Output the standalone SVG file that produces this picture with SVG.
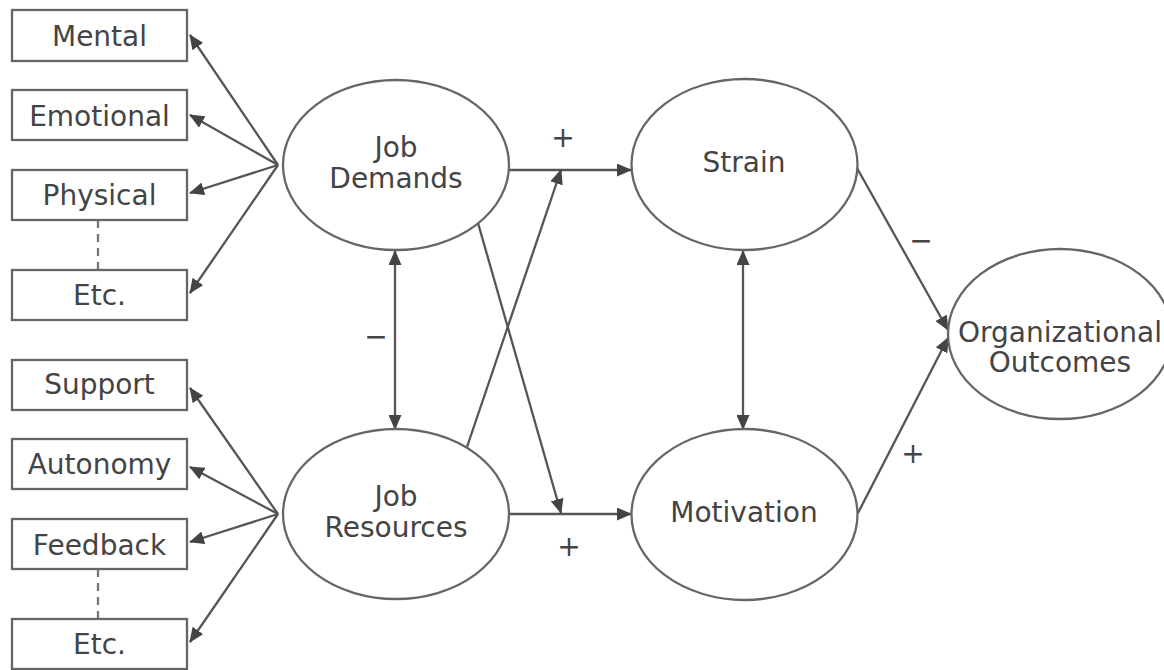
<svg xmlns="http://www.w3.org/2000/svg" width="1164" height="670" viewBox="0 0 1164 670">
<style>
.box{fill:#fff;stroke:#666;stroke-width:2.3}
.ell{fill:#fff;stroke:#666;stroke-width:2.3}
.t{font-family:"DejaVu Sans",Verdana,sans-serif;font-size:28px;fill:#444;text-anchor:middle}
.s{font-family:"DejaVu Sans",Verdana,sans-serif;font-size:28px;fill:#444;text-anchor:middle}
.c{stroke:#555;stroke-width:2.3;fill:none}
.d{stroke:#777;stroke-width:2.3;stroke-dasharray:8,6;fill:none}
</style>
<defs>
<marker id="ah" markerUnits="userSpaceOnUse" markerWidth="15" markerHeight="13" refX="14" refY="6.5" orient="auto-start-reverse" viewBox="0 0 15 13">
<path d="M0,0 L15,6.5 L0,13 Z" fill="#444"/>
</marker>
</defs>
<rect width="1164" height="670" fill="#fff"/>
<g id="connectors">
<line class="c" x1="278" y1="165" x2="190" y2="35" marker-end="url(#ah)"/>
<line class="c" x1="278" y1="165" x2="190" y2="115" marker-end="url(#ah)"/>
<line class="c" x1="278" y1="165" x2="190" y2="193" marker-end="url(#ah)"/>
<line class="c" x1="278" y1="165" x2="190" y2="293" marker-end="url(#ah)"/>
<line class="c" x1="278" y1="514" x2="190" y2="388" marker-end="url(#ah)"/>
<line class="c" x1="278" y1="514" x2="190" y2="467" marker-end="url(#ah)"/>
<line class="c" x1="278" y1="514" x2="190" y2="542" marker-end="url(#ah)"/>
<line class="c" x1="278" y1="514" x2="190" y2="642" marker-end="url(#ah)"/>
<line class="d" x1="98" y1="220" x2="98" y2="270"/>
<line class="d" x1="98" y1="569" x2="98" y2="619"/>
<line class="c" x1="509" y1="170" x2="631" y2="170" marker-end="url(#ah)"/>
<line class="c" x1="509" y1="514" x2="631" y2="514" marker-end="url(#ah)"/>
<line class="c" x1="467" y1="447" x2="561" y2="170" marker-end="url(#ah)"/>
<line class="c" x1="478" y1="223" x2="561" y2="513" marker-end="url(#ah)"/>
<line class="c" x1="395" y1="251" x2="395" y2="429" marker-start="url(#ah)" marker-end="url(#ah)"/>
<line class="c" x1="743" y1="251" x2="743" y2="429" marker-start="url(#ah)" marker-end="url(#ah)"/>
<line class="c" x1="857" y1="168" x2="948" y2="330" marker-end="url(#ah)"/>
<line class="c" x1="858" y1="513" x2="948" y2="338" marker-end="url(#ah)"/>
</g>
<g id="mental"><rect class="box" x="12" y="10" width="175" height="51"/><text class="t" x="99.5" y="46">Mental</text></g>
<g id="emotional"><rect class="box" x="12" y="90" width="175" height="50"/><text class="t" x="99.5" y="126">Emotional</text></g>
<g id="physical"><rect class="box" x="12" y="170" width="175" height="50"/><text class="t" x="99.5" y="205">Physical</text></g>
<g id="etc1"><rect class="box" x="12" y="270" width="175" height="50"/><text class="t" x="99.5" y="305">Etc.</text></g>
<g id="support"><rect class="box" x="12" y="360" width="175" height="50"/><text class="t" x="99.5" y="394">Support</text></g>
<g id="autonomy"><rect class="box" x="12" y="439" width="175" height="50"/><text class="t" x="99.5" y="474">Autonomy</text></g>
<g id="feedback"><rect class="box" x="12" y="519" width="175" height="50"/><text class="t" x="99.5" y="555">Feedback</text></g>
<g id="etc2"><rect class="box" x="12" y="619" width="175" height="50"/><text class="t" x="99.5" y="654">Etc.</text></g>
<g id="job-demands"><ellipse class="ell" cx="396" cy="165" rx="113" ry="85"/><text class="t" x="396" y="157">Job</text><text class="t" x="396" y="188">Demands</text></g>
<g id="job-resources"><ellipse class="ell" cx="396" cy="514" rx="113" ry="85"/><text class="t" x="396" y="506">Job</text><text class="t" x="396" y="537">Resources</text></g>
<g id="strain"><ellipse class="ell" cx="744.5" cy="164.5" rx="113" ry="85.5"/><text class="t" x="744" y="172">Strain</text></g>
<g id="motivation"><ellipse class="ell" cx="744.5" cy="514.5" rx="113" ry="85.5"/><text class="t" x="744" y="522">Motivation</text></g>
<g id="organizational-outcomes"><ellipse class="ell" cx="1060" cy="334" rx="112" ry="85"/><text class="t" x="1060" y="342">Organizational</text><text class="t" x="1060" y="372">Outcomes</text></g>
<g id="labels">
<text class="s" x="563" y="147">+</text>
<text class="s" x="569" y="556">+</text>
<text class="s" x="376" y="346">−</text>
<text class="s" x="921" y="250">−</text>
<text class="s" x="913" y="463">+</text>
</g>
</svg>
